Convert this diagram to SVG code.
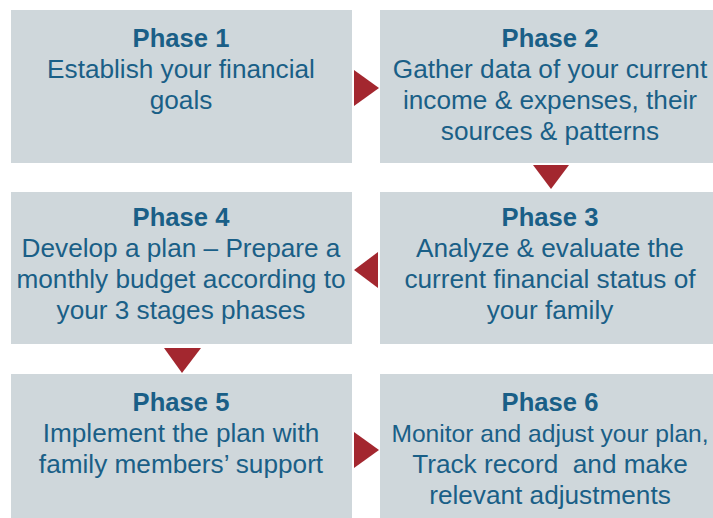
<svg xmlns="http://www.w3.org/2000/svg" width="713" height="518" viewBox="0 0 713 518">
<style>
.box{fill:#cfd7db;}
.t{font-family:"Liberation Sans",Arial,sans-serif;font-size:26.2px;fill:#1a5f87;text-anchor:middle;}
.h{font-weight:bold;font-size:25.6px;}
.arr{fill:#a3272f;}
</style>
<rect width="713" height="518" fill="#ffffff"/>
<g id="phase1">
<rect class="box" x="11" y="10" width="341" height="153"/>
<text class="t h" x="181" y="47">Phase 1</text>
<text class="t" x="181" y="78">Establish your financial</text>
<text class="t" x="181" y="109">goals</text>
</g>
<g id="phase2">
<rect class="box" x="380" y="10" width="333" height="153"/>
<text class="t h" x="550" y="47">Phase 2</text>
<text class="t" x="550" y="78">Gather data of your current</text>
<text class="t" x="550" y="109">income &amp; expenses, their</text>
<text class="t" x="550" y="140">sources &amp; patterns</text>
</g>
<g id="phase3">
<rect class="box" x="380" y="192" width="333" height="152"/>
<text class="t h" x="550" y="226">Phase 3</text>
<text class="t" x="550" y="257">Analyze &amp; evaluate the</text>
<text class="t" x="550" y="288">current financial status of</text>
<text class="t" x="550" y="319">your family</text>
</g>
<g id="phase4">
<rect class="box" x="11" y="192" width="341" height="152"/>
<text class="t h" x="181" y="226">Phase 4</text>
<text class="t" x="181" y="257">Develop a plan – Prepare a</text>
<text class="t" x="181" y="288">monthly budget according to</text>
<text class="t" x="181" y="319">your 3 stages phases</text>
</g>
<g id="phase5">
<rect class="box" x="11" y="374" width="341" height="144"/>
<text class="t h" x="181" y="411">Phase 5</text>
<text class="t" x="181" y="442">Implement the plan with</text>
<text class="t" x="181" y="473">family members’ support</text>
</g>
<g id="phase6">
<rect class="box" x="380" y="374" width="333" height="144"/>
<text class="t h" x="550" y="411">Phase 6</text>
<text class="t" x="550" y="442" style="font-size:24.6px">Monitor and adjust your plan,</text>
<text class="t" x="550" y="473" style="white-space:pre">Track record  and make</text>
<text class="t" x="550" y="504">relevant adjustments</text>
</g>
<g id="connectors">
<polygon class="arr" points="354,70 379,88 354,106"/>
<polygon class="arr" points="533,165 569,165 551,189"/>
<polygon class="arr" points="378,252 378,288 354,270"/>
<polygon class="arr" points="164,348 201,348 182,373"/>
<polygon class="arr" points="354,432 379,450 354,468"/>
</g>
</svg>
